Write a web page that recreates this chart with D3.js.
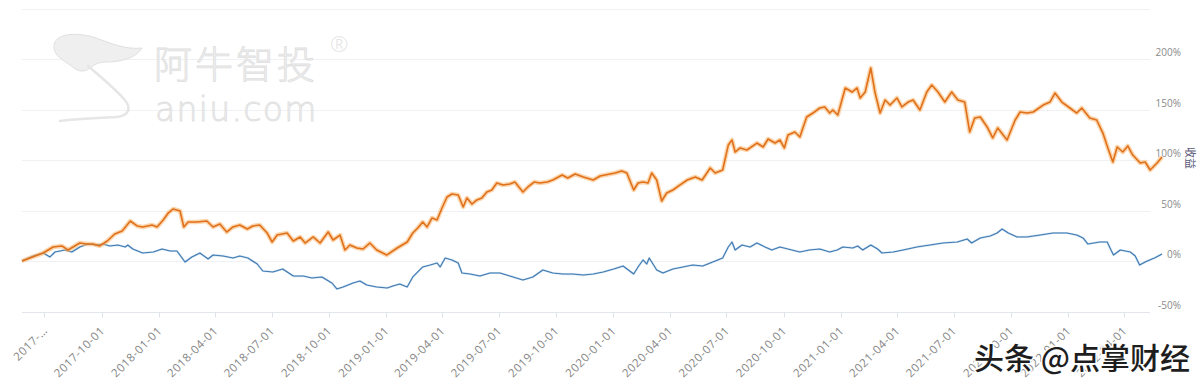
<!DOCTYPE html>
<html><head><meta charset="utf-8">
<script src="https://cdn.jsdelivr.net/npm/d3@7"></script>
<style>html,body{margin:0;padding:0;background:#fff;}svg{display:block;}</style>
</head><body>
<svg id="chart" width="1202" height="386"></svg>
<script>
// ---- data ----
const strategyDates = ["2017-05-26","2017-06-13","2017-06-29","2017-07-15","2017-07-29","2017-08-08","2017-08-16","2017-08-27","2017-09-07","2017-09-17","2017-09-28","2017-10-10","2017-10-22","2017-11-03","2017-11-16","2017-11-27","2017-12-06","2017-12-21","2017-12-29","2018-01-08","2018-01-16","2018-01-24","2018-02-04","2018-02-10","2018-02-17","2018-03-03","2018-03-19","2018-03-29","2018-04-09","2018-04-20","2018-04-30","2018-05-11","2018-05-23","2018-06-01","2018-06-12","2018-06-24","2018-07-02","2018-07-10","2018-07-26","2018-08-05","2018-08-16","2018-08-24","2018-09-06","2018-09-17","2018-09-30","2018-10-08","2018-10-19","2018-10-27","2018-11-04","2018-11-15","2018-11-25","2018-12-06","2018-12-17","2019-01-02","2019-01-19","2019-02-04","2019-02-13","2019-02-21","2019-03-01","2019-03-08","2019-03-16","2019-03-24","2019-04-01","2019-04-09","2019-04-17","2019-04-27","2019-05-05","2019-05-11","2019-05-19","2019-05-27","2019-06-04","2019-06-12","2019-06-20","2019-06-28","2019-07-08","2019-07-19","2019-07-27","2019-08-09","2019-08-17","2019-08-27","2019-09-05","2019-09-17","2019-09-26","2019-10-11","2019-10-20","2019-11-01","2019-11-14","2019-11-30","2019-12-11","2019-12-27","2020-01-04","2020-01-15","2020-01-23","2020-02-03","2020-02-10","2020-02-18","2020-02-26","2020-03-03","2020-03-11","2020-03-19","2020-03-27","2020-04-06","2020-04-17","2020-04-29","2020-05-12","2020-05-23","2020-06-05","2020-06-13","2020-06-25","2020-07-04","2020-07-10","2020-07-15","2020-07-23","2020-08-03","2020-08-19","2020-08-29","2020-09-06","2020-09-17","2020-09-25","2020-10-02","2020-10-08","2020-10-19","2020-10-27","2020-11-07","2020-11-17","2020-11-28","2020-12-06","2020-12-14","2020-12-19","2020-12-27","2021-01-08","2021-01-19","2021-01-27","2021-02-01","2021-02-09","2021-02-18","2021-02-25","2021-03-05","2021-03-13","2021-03-21","2021-04-01","2021-04-09","2021-04-19","2021-04-27","2021-05-08","2021-05-19","2021-05-27","2021-06-06","2021-06-17","2021-06-28","2021-07-08","2021-07-19","2021-07-27","2021-08-04","2021-08-13","2021-08-24","2021-09-02","2021-09-10","2021-09-25","2021-10-08","2021-10-16","2021-10-27","2021-11-06","2021-11-22","2021-12-03","2021-12-11","2021-12-22","2022-01-04","2022-01-15","2022-01-23","2022-02-05","2022-02-16","2022-02-26","2022-03-06","2022-03-14","2022-03-21","2022-03-30","2022-04-07","2022-04-15","2022-04-27","2022-05-05","2022-05-13","2022-05-24","2022-06-01"];
const strategyReturn = [0,4.3,7.9,13.9,14.9,10.9,13.9,17.8,16.8,16.8,14.9,19.8,26.7,29.7,39.6,34.7,33.7,35.6,33.7,40.6,47.5,51.5,49.5,33.7,38.6,38.6,39.6,33.7,36.6,28.7,33.7,35.6,31.7,34.7,35.6,27.7,18.8,25.7,27.7,19.8,23.8,17.8,23.8,17.8,28.7,20.8,25.7,10.9,15.8,12.9,11.9,17.8,10.9,5.9,12.9,18.8,27.7,32.7,38.6,33.7,42.6,40.6,52.5,63.4,66.3,65.3,53.5,62.4,56.4,60.4,62.4,68.3,70.3,77.2,75.2,76.2,78.2,68.3,73.3,78.2,77.2,78.2,80.2,85.1,82.2,86.1,83.2,80.2,84.2,86.1,87.1,89.1,87.1,70.3,77.2,78.2,77.2,87.1,80.2,59.4,67.3,70.3,75.2,80.2,83.2,80.2,92.1,87.1,90.1,114.8,119.8,107.9,111.9,109.9,116.8,112.9,120.8,116.8,119.8,111.9,124.7,127.7,122.8,142.6,146.5,151.5,152.5,146.5,149.5,144.5,171.3,167.3,171.3,161.4,167.3,191.1,166.3,146.5,159.4,154.4,161.4,152.5,157.4,159.4,149.5,167.3,174.2,167.3,157.4,167.3,159.4,157.4,127.7,141.6,142.6,132.7,121.8,131.7,119.8,139.6,147.5,146.5,147.5,154.4,157.4,166.3,157.4,151.5,146.5,151.5,141.6,139.6,126.7,111.9,98.0,112.9,107.9,113.9,104.9,97.0,98.0,90.1,97.0,103.0];

const benchmarkDates = ["2017-05-26","2017-06-13","2017-06-29","2017-07-10","2017-07-18","2017-08-03","2017-08-14","2017-08-27","2017-09-09","2017-09-23","2017-10-03","2017-10-14","2017-10-27","2017-11-08","2017-11-12","2017-11-20","2017-12-06","2017-12-23","2018-01-06","2018-01-19","2018-01-30","2018-02-12","2018-02-23","2018-03-08","2018-03-21","2018-03-29","2018-04-14","2018-04-30","2018-05-11","2018-05-24","2018-06-08","2018-06-17","2018-07-03","2018-07-19","2018-08-05","2018-08-21","2018-09-04","2018-09-20","2018-10-06","2018-10-14","2018-10-24","2018-11-09","2018-11-20","2018-12-01","2018-12-17","2019-01-03","2019-01-12","2019-01-23","2019-02-04","2019-02-13","2019-03-01","2019-03-13","2019-03-24","2019-03-29","2019-04-06","2019-04-17","2019-04-27","2019-05-03","2019-05-16","2019-06-01","2019-06-17","2019-07-03","2019-07-19","2019-08-09","2019-08-25","2019-09-10","2019-09-26","2019-10-12","2019-10-28","2019-11-14","2019-11-30","2019-12-16","2020-01-02","2020-01-17","2020-02-03","2020-02-10","2020-02-18","2020-02-24","2020-02-28","2020-03-11","2020-03-21","2020-04-06","2020-04-22","2020-05-08","2020-05-24","2020-06-09","2020-06-25","2020-07-04","2020-07-10","2020-07-15","2020-07-26","2020-08-08","2020-08-19","2020-09-01","2020-09-12","2020-09-25","2020-10-27","2020-11-11","2020-11-28","2020-12-14","2020-12-26","2021-01-04","2021-01-20","2021-01-28","2021-02-05","2021-02-18","2021-03-01","2021-03-08","2021-03-26","2021-04-11","2021-05-03","2021-05-24","2021-06-14","2021-07-07","2021-07-23","2021-07-30","2021-08-13","2021-08-29","2021-09-09","2021-09-17","2021-09-27","2021-10-11","2021-10-27","2021-11-17","2021-12-08","2021-12-30","2022-01-15","2022-01-25","2022-02-02","2022-02-21","2022-03-05","2022-03-11","2022-03-15","2022-03-26","2022-04-11","2022-04-19","2022-04-26","2022-05-05","2022-05-12","2022-05-20","2022-06-01"];
const benchmarkReturn = [0,5.0,7.9,4.0,8.9,10.9,8.9,13.9,16.8,15.8,16.8,14.9,15.8,13.9,15.8,11.9,7.9,8.9,11.9,9.9,9.9,-1.0,4.0,7.9,2.0,5.9,5.0,3.0,5.0,3.0,-3.0,-9.9,-10.9,-7.9,-14.9,-14.9,-16.8,-15.8,-21.8,-27.7,-25.7,-21.8,-19.8,-23.8,-25.7,-26.7,-24.8,-22.8,-25.7,-15.8,-5.9,-4.0,-2.0,-5.9,3.0,1.0,-2.0,-11.9,-12.9,-14.9,-11.9,-11.9,-14.9,-18.8,-15.8,-8.9,-11.9,-12.9,-12.9,-13.9,-12.9,-10.9,-7.9,-5.0,-12.9,-5.9,1.0,-3.0,3.0,-8.9,-11.9,-7.9,-5.9,-4.0,-5.0,-1.0,3.0,13.9,18.8,10.9,15.8,13.9,17.8,13.9,10.9,13.9,8.9,10.9,11.9,8.9,10.9,13.9,12.9,14.9,10.9,15.8,11.9,7.9,8.9,10.9,13.9,15.8,17.8,18.8,21.8,17.8,22.8,24.8,27.7,31.7,27.7,23.8,23.8,25.7,27.7,27.7,25.7,22.8,16.8,18.8,18.8,10.9,5.9,10.9,8.9,5.0,-4.0,-1.0,1.0,3.0,6.9];

const xTickDates = ["2017-07-01","2017-10-01","2018-01-01","2018-04-01","2018-07-01","2018-10-01","2019-01-01","2019-04-01","2019-07-01","2019-10-01","2020-01-01","2020-04-01","2020-07-01","2020-10-01","2021-01-01","2021-04-01","2021-07-01","2021-10-01","2022-01-01","2022-04-01"];
const xTickLabels = ["2017-…","2017-10-01","2018-01-01","2018-04-01","2018-07-01","2018-10-01","2019-01-01","2019-04-01","2019-07-01","2019-10-01","2020-01-01","2020-04-01","2020-07-01","2020-10-01","2021-01-01","2021-04-01","2021-07-01","2021-10-01","2022-01-01","2022-04-01"];
const yTicks = [-50, 0, 50, 100, 150, 200];
const yAxisName = "收益";

// ---- drawing ----
const parse = d3.timeParse("%Y-%m-%d");
const svg = d3.select("#chart");

const x = d3.scaleTime()
  .domain([parse("2017-05-26"), parse("2022-06-01")])
  .range([22, 1162]);
const y = d3.scaleLinear().domain([-50, 250]).range([311.5, 8.5]);

// grid lines
const gridVals = [-50, 0, 50, 100, 150, 200, 250];
svg.append("g").selectAll("line").data(gridVals).join("line")
  .attr("x1", 22).attr("x2", 1150)
  .attr("y1", d => Math.round(y(d)) + 0.5).attr("y2", d => Math.round(y(d)) + 0.5)
  .attr("stroke", d => d === -50 ? "#e3e6ec" : "#f0f1f4").attr("stroke-width", 1);

// watermark logo (top-left)
const wm = svg.append("g");
wm.append("path")
  .attr("d", "M55,42 C60,32 82,33 96,38 C110,43 126,50 142,48 C136,58 121,62 106,62 C98,62 94,65 90,68 C85,72 79,72 74,68 C64,60 50,55 55,42 Z")
  .attr("fill", "#efefef").attr("stroke", "#e0e0e0").attr("stroke-width", 1);
wm.append("path")
  .attr("d", "M88,66 C100,76 114,88 124,99 C132,108 129,116 116,117 C100,118 80,118 60,121")
  .attr("fill", "none").attr("stroke", "#e6e6e6").attr("stroke-width", 2.6).attr("stroke-linecap", "round");
wm.append("text").attr("x", 154).attr("y", 78)
  .attr("font-family", "'Noto Sans CJK SC'").attr("font-weight", 300).attr("font-size", 38)
  .attr("letter-spacing", 3)
  .attr("fill", "#efefef").attr("stroke", "#e0e0e0").attr("stroke-width", 0.8)
  .text("阿牛智投");
wm.append("text").attr("x", 155).attr("y", 121)
  .attr("font-family", "'DejaVu Sans'").attr("font-weight", 200).attr("font-size", 33)
  .attr("letter-spacing", 1.3)
  .attr("fill", "#efefef").attr("stroke", "#e0e0e0").attr("stroke-width", 0.8)
  .text("aniu.com");
wm.append("text").attr("x", 330).attr("y", 52)
  .attr("font-family", "'Noto Sans'").attr("font-weight", 300).attr("font-size", 22)
  .attr("fill", "#e6e6e6").text("®");

// y axis labels (right)
svg.append("g").selectAll("text").data(yTicks).join("text")
  .attr("x", 1181).attr("y", d => y(d) - 3)
  .attr("text-anchor", "end")
  .attr("font-family", "'Open Sans'").attr("font-size", 10)
  .attr("fill", "#8a8a8a")
  .text(d => d + "%");
svg.append("text")
  .attr("transform", `translate(1186,${y(100) - 2}) rotate(90)`)
  .attr("text-anchor", "middle")
  .attr("font-family", "'Noto Sans CJK SC'").attr("font-size", 11)
  .attr("fill", "#5a5a78")
  .text(yAxisName);

// x axis
const xAxisY = Math.round(y(-50)) + 0.5;
const tickDates = xTickDates.map(parse);
const ax = svg.append("g");
ax.selectAll("line.tick").data(tickDates).join("line").attr("class", "tick")
  .attr("x1", d => Math.round(x(d)) + 0.5).attr("x2", d => Math.round(x(d)) + 0.5)
  .attr("y1", xAxisY).attr("y2", xAxisY + 5)
  .attr("stroke", "#dfe2e8");
ax.selectAll("text").data(tickDates).join("text")
  .attr("transform", d => `translate(${x(d) + 1},${xAxisY + 16}) rotate(-45)`)
  .attr("text-anchor", "end")
  .attr("dy", "0.35em")
  .attr("font-family", "'Open Sans'").attr("font-size", 11.5)
  .attr("letter-spacing", 0.6)
  .attr("fill", "#858585")
  .text((d, i) => xTickLabels[i]);

// lines
const strat = strategyDates.map((d, i) => ({ date: parse(d), v: strategyReturn[i] }));
const bench = benchmarkDates.map((d, i) => ({ date: parse(d), v: benchmarkReturn[i] }));
const line = d3.line().x(d => x(d.date)).y(d => y(d.v));

svg.append("path").datum(bench).attr("d", line)
  .attr("fill", "none").attr("stroke", "#9cc3e6").attr("stroke-width", 2.2).attr("stroke-opacity", 0.5)
  .attr("stroke-linejoin", "round");
svg.append("path").datum(bench).attr("d", line)
  .attr("fill", "none").attr("stroke", "#3f79b0").attr("stroke-width", 1.1)
  .attr("stroke-linejoin", "round");

svg.append("path").datum(strat).attr("d", line)
  .attr("fill", "none").attr("stroke", "#f7b46c").attr("stroke-width", 4.5).attr("stroke-opacity", 0.55)
  .attr("stroke-linejoin", "round");
svg.append("path").datum(strat).attr("d", line)
  .attr("fill", "none").attr("stroke", "#e0701a").attr("stroke-width", 1.6)
  .attr("stroke-linejoin", "round");

// bottom-right watermark
svg.append("text")
  .attr("x", 1190).attr("y", 369)
  .attr("text-anchor", "end")
  .attr("font-family", "'Noto Sans CJK SC'").attr("font-weight", 500).attr("font-size", 30)
  .attr("fill", "#1e1e1e").attr("stroke", "#ffffff").attr("stroke-width", 3)
  .attr("paint-order", "stroke")
  .text("头条 @点掌财经");
</script>
</body></html>
